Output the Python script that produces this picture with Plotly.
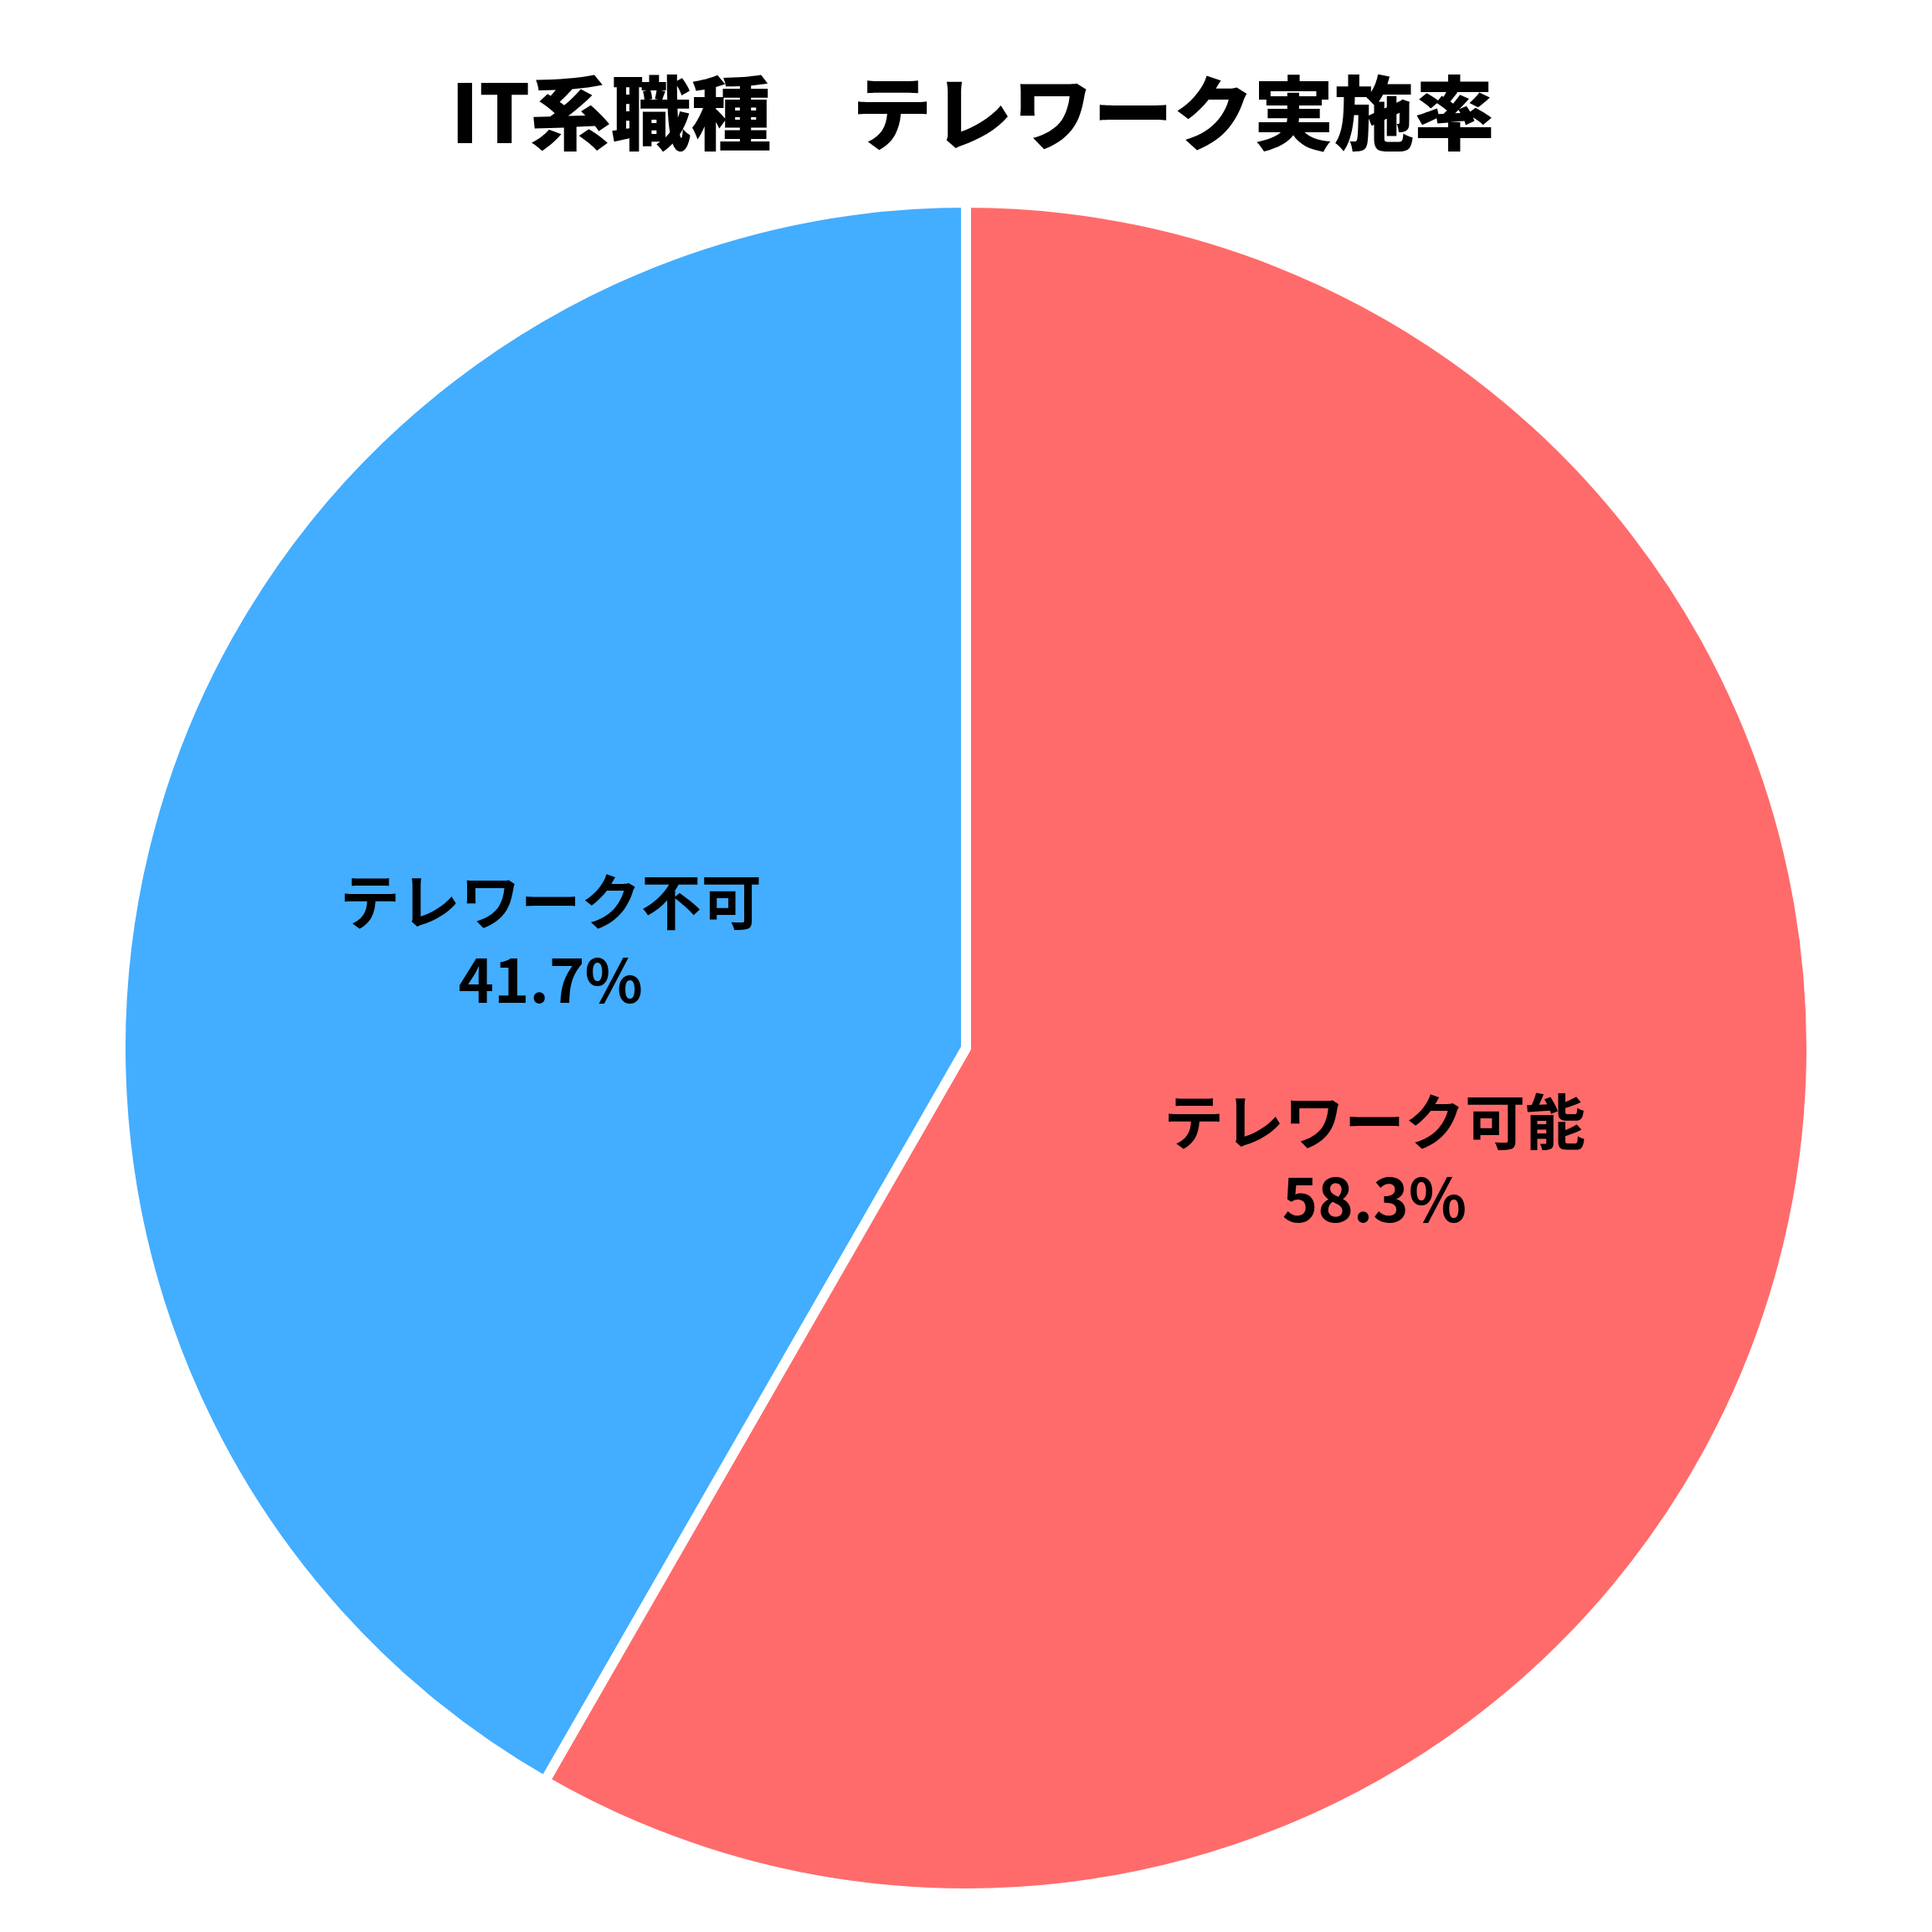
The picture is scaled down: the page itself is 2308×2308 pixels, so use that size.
import plotly.graph_objects as go

labels = ["テレワーク可能", "テレワーク不可"]
values = [58.3, 41.7]
colors = ["#ff6b6b", "#43adff"]
title_text = "IT系職種\u3000テレワーク実施率"

fig = go.Figure(go.Pie(
    labels=labels,
    values=values,
    sort=False,
    direction="clockwise",
    rotation=0,
    marker=dict(colors=colors, line=dict(color="white", width=12)),
    texttemplate="%{label}<br>%{percent:.1%}",
    textposition="inside",
    insidetextorientation="horizontal",
    textfont=dict(family="Noto Sans CJK JP", size=72, color="black", weight="bold"),
    showlegend=False,
    hoverinfo="none",
))

fig.update_layout(
    width=2308, height=2308,
    margin=dict(t=234, b=54, l=136, r=152),
    paper_bgcolor="white",
    plot_bgcolor="white",
    title=dict(
        text=title_text,
        x=0.5, xanchor="center",
        y=1 - 129 / 2308, yanchor="middle",
        font=dict(family="Noto Sans CJK JP", size=96, color="black", weight=900),
    ),
)

fig.write_html("out.html")
